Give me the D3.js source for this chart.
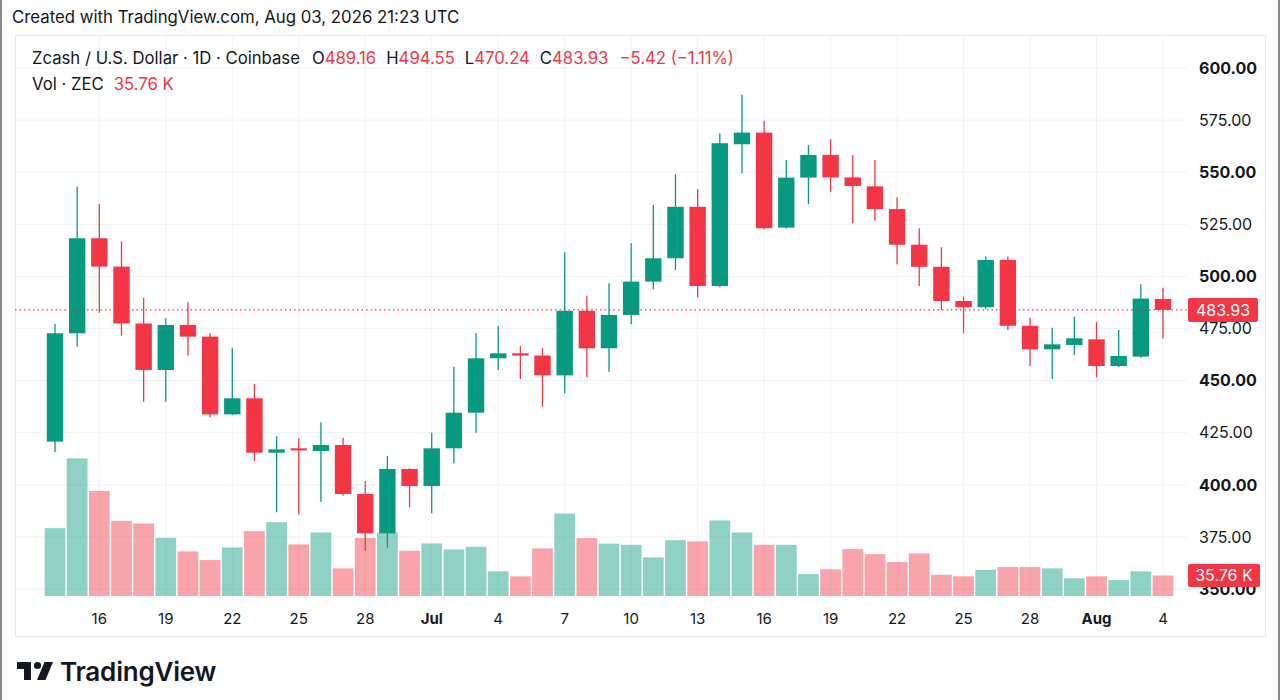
<!DOCTYPE html>
<html>
<head>
<meta charset="utf-8">
<script src="https://cdn.jsdelivr.net/npm/d3@7"></script>
<style>
  body { margin: 0; background: #fff; }
  svg { display: block; font-family: Inter, "Noto Sans", sans-serif; }
</style>
</head>
<body>
<div id="chart"></div>
<script>
// daily ZEC/USD candles, Coinbase
var days = [
  "2026-06-14","2026-06-15","2026-06-16","2026-06-17","2026-06-18","2026-06-19","2026-06-20",
  "2026-06-21","2026-06-22","2026-06-23","2026-06-24","2026-06-25","2026-06-26","2026-06-27",
  "2026-06-28","2026-06-29","2026-06-30","2026-07-01","2026-07-02","2026-07-03","2026-07-04",
  "2026-07-05","2026-07-06","2026-07-07","2026-07-08","2026-07-09","2026-07-10","2026-07-11",
  "2026-07-12","2026-07-13","2026-07-14","2026-07-15","2026-07-16","2026-07-17","2026-07-18",
  "2026-07-19","2026-07-20","2026-07-21","2026-07-22","2026-07-23","2026-07-24","2026-07-25",
  "2026-07-26","2026-07-27","2026-07-28","2026-07-29","2026-07-30","2026-07-31","2026-08-01",
  "2026-08-02","2026-08-03"
];
var opens = [
  420.7, 472.7, 518.3, 504.7, 477.4, 455.1, 476.7, 471.1, 433.8, 441.5, 415.4, 417.5, 416.2, 419.1,
  395.6, 376.7, 407.6, 399.4, 417.5, 434.6, 460.7, 463.1, 462.0, 452.5, 483.5, 465.5, 481.5, 497.5,
  508.7, 533.4, 495.4, 563.4, 569.0, 523.4, 547.4, 558.3, 547.5, 543.2, 532.3, 515.2, 504.6, 488.2,
  485.2, 507.9, 476.3, 465.0, 467.1, 469.8, 457.0, 461.5, 489.16
];
var highs = [
  477.2, 543.0, 534.7, 516.7, 489.8, 479.9, 487.6, 472.7, 465.8, 448.4, 423.4, 422.3, 430.0, 422.6,
  401.8, 413.8, 407.9, 425.0, 456.7, 472.7, 476.2, 466.6, 465.5, 511.6, 490.7, 496.7, 515.9, 534.3,
  549.0, 541.9, 568.7, 587.2, 574.7, 555.9, 563.0, 565.8, 558.1, 555.9, 538.0, 523.1, 514.0, 490.3,
  509.5, 509.5, 480.2, 475.4, 480.7, 478.0, 474.3, 496.2, 494.55
];
var lows = [
  415.6, 466.3, 482.6, 471.5, 439.9, 439.9, 462.0, 432.4, 433.5, 411.4, 386.8, 385.8, 391.9, 394.8,
  368.4, 369.8, 389.2, 386.3, 410.3, 425.0, 455.1, 450.8, 437.5, 443.9, 451.6, 454.3, 477.0, 493.8,
  503.1, 490.0, 494.8, 549.5, 522.6, 523.0, 534.7, 540.4, 525.5, 526.7, 505.8, 495.4, 483.9, 472.7,
  484.2, 474.3, 457.0, 450.8, 462.3, 451.6, 456.5, 461.0, 470.24
];
var closes = [
  472.7, 518.3, 504.7, 477.4, 455.1, 476.7, 471.1, 433.8, 441.5, 415.4, 417.0, 416.5, 419.1, 395.6,
  376.7, 407.6, 399.4, 417.5, 434.6, 460.7, 463.1, 462.0, 452.5, 483.5, 465.5, 481.5, 497.5, 508.7,
  533.4, 495.4, 563.9, 569.0, 523.1, 547.4, 558.3, 547.5, 543.4, 532.3, 515.2, 504.6, 488.2, 485.2,
  507.9, 476.3, 465.0, 467.4, 470.3, 457.0, 461.8, 489.35, 483.93
];
// volume in thousands of ZEC
var volumes = [
  118.6, 240.7, 183.6, 131.3, 126.8, 101.7, 78.0, 62.8, 84.9, 113.4, 129.1, 90.2, 111.1, 48.3,
  101.7, 111.1, 79.0, 91.9, 81.4, 86.0, 43.1, 34.4, 83.2, 144.2, 101.2, 91.6, 89.5, 67.5,
  97.7, 95.4, 132.0, 111.1, 89.5, 89.5, 38.4, 46.6, 82.0, 73.2, 59.3, 74.5, 37.1, 34.4,
  45.9, 50.6, 50.6, 48.3, 30.9, 34.4, 27.9, 43.1, 35.76
];
var tickDays = [
  "2026-06-16","2026-06-19","2026-06-22","2026-06-25","2026-06-28","2026-07-01","2026-07-04",
  "2026-07-07","2026-07-10","2026-07-13","2026-07-16","2026-07-19","2026-07-22","2026-07-25",
  "2026-07-28","2026-07-31","2026-08-03"
];
var tickLabels = ["16","19","22","25","28","Jul","4","7","10","13","16","19","22","25","28","Aug","4"];
var priceTicks = [350, 375, 400, 425, 450, 475, 500, 525, 550, 575, 600];
var lastClose = 483.93;
var lastVol = 35.76;

var red = "#f23645", green = "#089981", ink = "#131722", grid = "#f0f2f5";

var width = 1280, height = 700;
var plot = {left: 15, right: 1187, top: 36, bottom: 600};

var data = days.map(function(d, i) {
  return {day: d, o: opens[i], h: highs[i], l: lows[i], c: closes[i], v: volumes[i]};
});

var svg = d3.select("#chart")
  .append("svg")
  .attr("width", width)
  .attr("height", height);

// frame of the screenshot + chart panel
svg.append("line").attr("x1", 1).attr("x2", 1).attr("y1", 0).attr("y2", height)
  .attr("stroke", "#8c8c8c").attr("stroke-width", 2);
svg.append("line").attr("x1", 1279).attr("x2", 1279).attr("y1", 0).attr("y2", height)
  .attr("stroke", "#8c8c8c").attr("stroke-width", 2);
svg.append("rect")
  .attr("x", 15.5).attr("y", 35.5).attr("width", 1250).attr("height", 601)
  .attr("fill", "none").attr("stroke", "#e6e8ee");

var x = d3.scalePoint().domain(days).range([55, 1163]);
var step = x.step();
var y = d3.scaleLinear().domain([350, 600]).range([589, 68]);
var yVol = d3.scaleLinear().domain([0, 250]).range([596, 453]);

// grid
svg.append("g")
  .selectAll("line")
  .data(priceTicks)
  .enter().append("line")
  .attr("x1", plot.left).attr("x2", plot.right)
  .attr("y1", function(d) { return y(d); })
  .attr("y2", function(d) { return y(d); })
  .attr("stroke", grid);
svg.append("g")
  .selectAll("line")
  .data(tickDays)
  .enter().append("line")
  .attr("x1", function(d) { return x(d); })
  .attr("x2", function(d) { return x(d); })
  .attr("y1", plot.top).attr("y2", plot.bottom)
  .attr("stroke", grid);

// volume bars
svg.append("g")
  .selectAll("rect")
  .data(data)
  .enter().append("rect")
  .attr("x", function(d) { return x(d.day) - step / 2 + 0.7; })
  .attr("width", step - 1.4)
  .attr("y", function(d) { return yVol(d.v); })
  .attr("height", function(d) { return yVol(0) - yVol(d.v); })
  .attr("fill", function(d) { return d.c >= d.o ? green : red; })
  .attr("fill-opacity", 0.45);

// candles
var candle = svg.append("g")
  .selectAll("g")
  .data(data)
  .enter().append("g")
  .attr("fill", function(d) { return d.c >= d.o ? green : red; })
  .attr("stroke", function(d) { return d.c >= d.o ? green : red; });
candle.append("line")
  .attr("x1", function(d) { return x(d.day); })
  .attr("x2", function(d) { return x(d.day); })
  .attr("y1", function(d) { return y(d.h); })
  .attr("y2", function(d) { return y(d.l); })
  .attr("stroke-width", 1.3);
candle.append("rect")
  .attr("x", function(d) { return x(d.day) - step * 0.37; })
  .attr("width", step * 0.74)
  .attr("y", function(d) { return y(Math.max(d.o, d.c)); })
  .attr("height", function(d) { return Math.max(1.5, Math.abs(y(d.o) - y(d.c))); })
  .attr("stroke", "none");

// last price line
svg.append("line")
  .attr("x1", plot.left).attr("x2", plot.right)
  .attr("y1", y(lastClose)).attr("y2", y(lastClose))
  .attr("stroke", red).attr("stroke-width", 1.2)
  .attr("stroke-dasharray", "1.5,3");

// price axis labels
svg.append("g")
  .selectAll("text")
  .data(priceTicks)
  .enter().append("text")
  .attr("x", 1199)
  .attr("y", function(d) { return y(d); })
  .attr("dy", "0.36em")
  .attr("fill", ink)
  .style("font-size", "16px")
  .style("font-weight", function(d) { return d % 50 === 0 ? 700 : 400; })
  .text(function(d) { return d3.format(".2f")(d); });

// time axis labels
svg.append("g")
  .selectAll("text")
  .data(tickDays)
  .enter().append("text")
  .attr("x", function(d) { return x(d); })
  .attr("y", 619)
  .attr("dy", "0.36em")
  .attr("text-anchor", "middle")
  .attr("fill", ink)
  .style("font-size", "15px")
  .style("font-weight", function(d, i) { return isNaN(+tickLabels[i]) ? 700 : 400; })
  .text(function(d, i) { return tickLabels[i]; });

// price + volume badges
svg.append("rect")
  .attr("x", 1188).attr("y", y(lastClose) - 12)
  .attr("width", 70).attr("height", 24).attr("rx", 2)
  .attr("fill", red);
svg.append("text")
  .attr("x", 1223).attr("y", y(lastClose)).attr("dy", "0.36em")
  .attr("text-anchor", "middle").attr("fill", "#fff")
  .style("font-size", "16px")
  .text(d3.format(".2f")(lastClose));
svg.append("rect")
  .attr("x", 1188).attr("y", yVol(lastVol) - 11.5)
  .attr("width", 72).attr("height", 23).attr("rx", 2)
  .attr("fill", red);
svg.append("text")
  .attr("x", 1224).attr("y", yVol(lastVol)).attr("dy", "0.36em")
  .attr("text-anchor", "middle").attr("fill", "#fff")
  .style("font-size", "16px")
  .text(lastVol + " K");

// header
svg.append("text")
  .attr("x", 12).attr("y", 23)
  .attr("fill", ink)
  .style("font-size", "16.8px")
  .text("Created with TradingView.com, Aug 03, 2026 21:23 UTC");

var n = data.length;
var last = data[n - 1];
var chg = last.c - data[n - 2].c;
var legend = svg.append("text")
  .attr("x", 32).attr("y", 64)
  .attr("fill", ink)
  .style("font-size", "16.7px");
legend.append("tspan").text("Zcash / U.S. Dollar · 1D · Coinbase");
[["O", last.o], ["H", last.h], ["L", last.l], ["C", last.c]].forEach(function(p, i) {
  legend.append("tspan").attr("dx", i === 0 ? 12 : 10).text(p[0]);
  legend.append("tspan").attr("fill", red).text(d3.format(".2f")(p[1]));
});
legend.append("tspan").attr("dx", 11).attr("fill", red)
  .text("\u2212" + d3.format(".2f")(Math.abs(chg)) + " (\u2212" + d3.format(".2f")(Math.abs(chg / data[n - 2].c * 100)) + "%)");

var volLegend = svg.append("text")
  .attr("x", 32).attr("y", 90)
  .attr("fill", ink)
  .style("font-size", "16.7px");
volLegend.append("tspan").text("Vol · ZEC");
volLegend.append("tspan").attr("dx", 10).attr("fill", red).text(lastVol + " K");

// TradingView logo
var logo = svg.append("g").attr("transform", "translate(17,658)").attr("fill", ink);
logo.append("path").attr("d", "M0 4H14V22H7V11H0Z");
logo.append("circle").attr("cx", 20.5).attr("cy", 7.5).attr("r", 3.6);
logo.append("path").attr("d", "M20 22L27.5 4H36L28.5 22Z");
svg.append("text")
  .attr("x", 60).attr("y", 681)
  .attr("fill", ink)
  .style("font-size", "26px")
  .style("font-weight", 600)
  .style("letter-spacing", "-0.2px")
  .text("TradingView");
</script>
</body>
</html>
